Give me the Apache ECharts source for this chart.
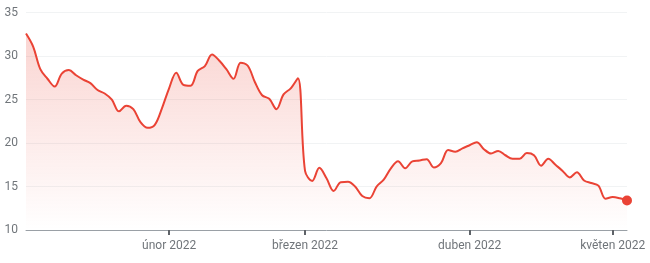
<!DOCTYPE html>
<html>
<head>
<meta charset="utf-8">
<script src="https://cdn.jsdelivr.net/npm/echarts@6/dist/echarts.min.js"></script>
<style>html,body{margin:0;padding:0;background:#fff}#c{width:650px;height:263px}</style>
</head>
<body>
<div id="c"></div>
<script>
const categories = [
  "2022-01-03","2022-01-04","2022-01-05","2022-01-06","2022-01-07","2022-01-10","2022-01-11","2022-01-12","2022-01-13","2022-01-14",
  "2022-01-18","2022-01-19","2022-01-20","2022-01-21","2022-01-24","2022-01-25","2022-01-26","2022-01-27","2022-01-28","2022-01-31",
  "2022-02-01","2022-02-02","2022-02-03","2022-02-04","2022-02-07","2022-02-08","2022-02-09","2022-02-10","2022-02-11","2022-02-14",
  "2022-02-15","2022-02-16","2022-02-17","2022-02-18","2022-02-22","2022-02-23","2022-02-24","2022-02-25","2022-02-28",
  "2022-03-01","2022-03-02","2022-03-03","2022-03-04","2022-03-07","2022-03-08","2022-03-09","2022-03-10","2022-03-11","2022-03-14",
  "2022-03-15","2022-03-16","2022-03-17","2022-03-18","2022-03-21","2022-03-22","2022-03-23","2022-03-24","2022-03-25","2022-03-28",
  "2022-03-29","2022-03-30","2022-03-31",
  "2022-04-01","2022-04-04","2022-04-05","2022-04-06","2022-04-07","2022-04-08","2022-04-11","2022-04-12","2022-04-13","2022-04-14",
  "2022-04-18","2022-04-19","2022-04-20","2022-04-21","2022-04-22","2022-04-25","2022-04-26","2022-04-27","2022-04-28","2022-04-29",
  "2022-05-02","2022-05-03","2022-05-04"
];
const values = [
  32.6, 31.1, 28.5, 27.4, 26.5, 28.0, 28.4, 27.8, 27.3, 26.9,
  26.1, 25.7, 25.0, 23.65, 24.3, 23.9, 22.4, 21.75, 22.1, 24.0,
  26.3, 28.1, 26.7, 26.6, 28.3, 28.85, 30.2, 29.5, 28.5, 27.4,
  29.25, 28.9, 27.0, 25.5, 25.1, 23.9, 25.6, 26.3, 27.45,
  16.8, 15.65, 17.15, 15.95, 14.5, 15.5, 15.55, 15.0, 13.9, 13.65,
  15.0, 15.8, 17.1, 17.9, 17.1, 17.9, 18.0, 18.15, 17.2, 17.7,
  19.2, 19.0, 19.4,
  19.75, 20.1, 19.3, 18.8, 19.1, 18.6, 18.2, 18.2, 18.85, 18.6,
  17.4, 18.2, 17.5, 16.8, 16.05, 16.65, 15.7, 15.4, 15.1, 13.6,
  13.8, 13.65, 13.4
];
const tickDates = ["2022-02-01","2022-03-01","2022-04-01","2022-05-02"];
const tickLabels = ["únor 2022","březen 2022","duben 2022","květen 2022"];
const yTicks = [10, 15, 20, 25, 30, 35];

const last = categories.length - 1;
const isTick = (idx, val) => tickDates.indexOf(val) >= 0;
const red = '#ea4335';

const chart = echarts.init(document.getElementById('c'), null, {renderer: 'canvas'});
chart.setOption({
  animation: false,
  grid: {left: 26, right: 23, top: 12.7, bottom: 33, containLabel: false},
  xAxis: {
    type: 'category',
    data: categories,
    boundaryGap: false,
    axisLine: {show: true, lineStyle: {color: '#9aa0a6', width: 1}},
    axisTick: {show: true, interval: isTick, length: 5, lineStyle: {color: '#5f6368', width: 2}},
    axisLabel: {
      interval: isTick,
      formatter: v => { const k = tickDates.indexOf(v); return k >= 0 ? tickLabels[k] : ''; },
      color: '#70757a', fontFamily: 'Roboto', fontSize: 12, margin: 10
    },
    splitLine: {show: false}
  },
  yAxis: {
    type: 'value',
    min: yTicks[0], max: yTicks[yTicks.length - 1], interval: 5,
    axisLine: {show: false},
    axisTick: {show: false},
    axisLabel: {color: '#70757a', fontFamily: 'Roboto', fontSize: 12, margin: 8},
    splitLine: {lineStyle: {color: '#f1f3f4', width: 1}}
  },
  series: [
    {
      type: 'line',
      data: values,
      smooth: 0.35,
      showSymbol: false,
      lineStyle: {color: red, width: 2},
      areaStyle: {
        color: new echarts.graphic.LinearGradient(0, 0, 0, 1, [
          {offset: 0, color: 'rgba(234,67,53,0.32)'},
          {offset: 1, color: 'rgba(234,67,53,0)'}
        ]),
        origin: 'start'
      },
      z: 2
    },
    {
      type: 'scatter',
      data: [[categories[last], values[last]]],
      symbolSize: 10,
      itemStyle: {color: red, opacity: 1},
      z: 3
    }
  ]
});
</script>
</body>
</html>
